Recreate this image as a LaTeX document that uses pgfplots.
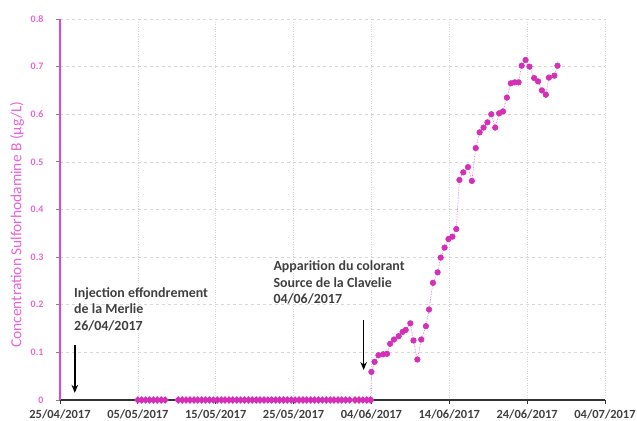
\documentclass[border=0pt]{standalone}
\usepackage{fontspec}
\setmainfont{Carlito}
\usepackage{pgfplots}
\pgfplotsset{compat=1.18}
\usetikzlibrary{arrows.meta}
\definecolor{mag}{RGB}{212,48,182}
\definecolor{magline}{RGB}{228,80,205}
\definecolor{magaxis}{RGB}{226,70,206}
\definecolor{maglab}{RGB}{232,100,214}
\definecolor{txt}{RGB}{64,64,64}
\definecolor{gridc}{RGB}{215,215,215}
\begin{document}
\begin{tikzpicture}
\begin{axis}[
  scale only axis, width=545bp, height=381bp,
  xmin=0, xmax=70, ymin=0, ymax=0.8,
  axis x line*=bottom, axis y line*=left,
  x axis line style={black!80, line width=1.3pt},
  y axis line style={magaxis, line width=1.3pt},
  xtick={0,10,20,30,40,50,60,70},
  xticklabels={25/04/2017,05/05/2017,15/05/2017,25/05/2017,04/06/2017,14/06/2017,24/06/2017,04/07/2017},
  ytick={0,0.1,0.2,0.3,0.4,0.5,0.6,0.7,0.8},
  yticklabels={0,0.1,0.2,0.3,0.4,0.5,0.6,0.7,0.8},
  x tick style={black!80, line width=0.8pt},
  y tick style={gray, line width=0.8pt},
  tick align=outside, major tick length=4bp,
  xticklabel style={font=\fontsize{12.5}{14}\selectfont\bfseries, text=txt, yshift=-2bp},
  yticklabel style={font=\fontsize{10}{12}\selectfont\bfseries, text=maglab, xshift=-9bp},
  grid=major,
  x grid style={gridc, dotted, line width=0.6pt},
  y grid style={gridc, dashed, line width=0.6pt},
  ylabel={Concentration Sulforhodamine B (µg/L)},
  every axis y label/.style={at={(axis description cs:0,0.46)}, xshift=-43bp, rotate=90, anchor=center, font=\fontsize{15.5}{17}\selectfont, text=maglab},
  clip=false,
]
\coordinate (O) at (axis cs:0,0);
% zero values
\addplot[mag, line width=3.2pt, mark=*, mark size=1.6pt, mark options={solid, fill=mag, draw=mag}] coordinates {
(10,0)(10.5,0)(11,0)(11.5,0)(12,0)(12.5,0)(13,0)(13.5,0)
};
\addplot[mag, line width=3.2pt, mark=*, mark size=1.6pt, mark options={solid, fill=mag, draw=mag}] coordinates {
(15.2,0)(15.7,0)(16.2,0)(16.7,0)(17.2,0)(17.7,0)(18.2,0)(18.7,0)(19.2,0)(19.7,0)
(20.2,0)(20.7,0)(21.2,0)(21.7,0)(22.2,0)(22.7,0)(23.2,0)(23.7,0)(24.2,0)(24.7,0)
(25.2,0)(25.7,0)(26.2,0)(26.7,0)(27.2,0)(27.7,0)(28.2,0)(28.7,0)(29.2,0)(29.7,0)
(30.2,0)(30.7,0)(31.2,0)(31.7,0)(32.2,0)(32.7,0)(33.2,0)(33.7,0)(34.2,0)(34.7,0)
(35.2,0)(35.7,0)(36.2,0)(36.7,0)(37.2,0)
};
\addplot[mag, line width=3.2pt, mark=*, mark size=1.6pt, mark options={solid, fill=mag, draw=mag}] coordinates {
(37.9,0)(38.4,0)(38.9,0)(39.4,0)(39.9,0)
};
\addplot[magline, densely dotted, line width=0.6pt, mark=*, mark size=2.8pt, mark options={solid, fill=mag, draw=mag}] coordinates {
(39.9,0)
(40.0,0.059)(40.4,0.080)(40.9,0.094)(41.5,0.096)(42.0,0.097)(42.4,0.118)(42.9,0.127)
(43.5,0.134)(44.0,0.143)(44.4,0.147)(45.0,0.161)(45.4,0.125)(45.9,0.085)(46.4,0.127)
(47.0,0.155)(47.4,0.190)(47.9,0.246)(48.5,0.268)(48.9,0.299)(49.4,0.320)(49.9,0.338)
(50.4,0.343)(50.9,0.359)(51.3,0.462)(51.8,0.478)(52.4,0.489)(52.9,0.460)(53.4,0.529)
(53.9,0.562)(54.4,0.572)(54.9,0.583)(55.4,0.600)(55.9,0.572)(56.4,0.602)(56.9,0.606)
(57.4,0.635)(57.9,0.665)(58.4,0.667)(58.9,0.667)(59.3,0.702)(59.8,0.714)(60.3,0.700)
(60.9,0.676)(61.4,0.669)(61.9,0.650)(62.4,0.641)(62.8,0.677)(63.5,0.681)(63.9,0.702)
};
\draw[-{Stealth[length=8bp,width=6.5bp]}, black, line width=1.5pt] (axis cs:1.9,0.116) -- (axis cs:1.9,0.015);
\draw[-{Stealth[length=8bp,width=6.5bp]}, black, line width=1.5pt] (axis cs:39.0,0.168) -- (axis cs:39.0,0.063);
\node[anchor=west, align=left, inner sep=0pt, text=txt, font=\fontsize{14}{16.5}\selectfont\bfseries] at (axis cs:1.8,0.191) {Injection effondrement\\de la Merlie\\26/04/2017};
\node[anchor=west, align=left, inner sep=0pt, text=txt, font=\fontsize{14}{16.5}\selectfont\bfseries] at (axis cs:27.4,0.246) {Apparition du colorant\\Source de la Clavelie\\04/06/2017};
\end{axis}
\pgfresetboundingbox
\path[use as bounding box] ([shift={(-60bp,-21bp)}]O) rectangle ([shift={(577bp,400bp)}]O);
\end{tikzpicture}
\end{document}
